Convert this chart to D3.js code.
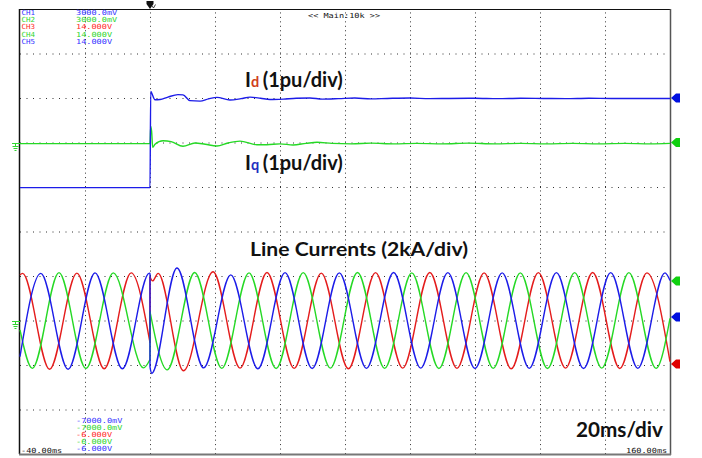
<!doctype html>
<html>
<head>
    <meta charset="utf-8">
    <style>
        body {
            margin: 0;
            background: #fff;
        }
        svg {
            display: block;
        }
        .grid line {
            stroke: #333;
            stroke-width: 1;
        }
        .grid path {
            stroke-width: 0;
        }
        .trace {
            fill: none;
            stroke-width: 1.4;
            stroke-linejoin: round;
        }
        text.scope {
            font-family: 'DejaVu Sans Mono', monospace;
            font-size: 7px;
        }
        text.label {
            font-family: Lato, 'Open Sans', sans-serif;
            font-weight: 700;
            fill: #111;
        }
    </style>
    <script src="https://d3js.org/d3.v7.min.js"></script>
</head>
<body>
<svg width="702" height="458"></svg>
<script>
    // time axis in ms, screen is 10 x 10 divisions
    const timeTicks = [-20, 0, 20, 40, 60, 80, 100, 120, 140];
    const divTicks = [-4, -3, -2, -1, 0, 1, 2, 3, 4];

    // Id / Iq in pu (1pu/div), reference at +2 div
    const idTrace = [[-40,-1.015],[0,-1.015],[0.22,1.15],[0.46,1.12],[1.54,0.96],[3.08,0.965],[5.5,1.02],[8.6,1.075],[10.15,1.07],[12.3,0.94],[15.4,0.93],[18.0,0.98],[20.6,1.015],[24.6,0.955],[28.0,0.985],[30.8,1.02],[34.0,0.995],[36.9,0.965],[41.0,0.975],[45.0,0.995],[49.2,1.0],[53.0,0.975],[58.0,0.985],[63.0,1.0],[68.0,0.98],[73.0,0.99],[80.0,1.0],[86.0,0.985],[92.0,0.99],[100.0,0.995],[107.0,0.985],[114.0,0.995],[121.0,0.99],[128.0,0.985],[135.0,0.995],[142.0,0.99],[150.0,0.99],[160.0,0.99]];
    const iqTrace = [[-40,-0.025],[0,-0.025],[0.22,0.36],[0.5,0.25],[0.83,-0.11],[1.54,-0.04],[4.0,0.04],[6.5,0.02],[10.15,-0.085],[13.85,-0.01],[17.0,-0.04],[20.6,-0.08],[24.0,-0.01],[27.7,0.03],[32.9,-0.05],[36.0,-0.05],[40.0,-0.03],[44.0,-0.055],[48.0,-0.02],[51.4,0.005],[56.0,-0.02],[62.0,-0.03],[68.0,-0.015],[75.0,-0.03],[82.0,-0.02],[90.0,-0.03],[98.0,-0.015],[106.0,-0.03],[114.0,-0.02],[122.0,-0.03],[130.0,-0.02],[138.0,-0.03],[146.0,-0.02],[154.0,-0.03],[160.0,-0.02]];

    // line currents in kA (2kA/div), reference at -2 div
    // peaks and troughs, before and after the step at t = 0
    const iaBefore = [[-40,2.05],[-39.2,2.12],[-30.9,-2.19],[-22.5,2.13],[-14.1,-2.17],[-5.8,2.14],[0,-1.0]];
    const iaAfter = [[0,1.97],[0.8,1.78],[2.5,2.12],[10.3,-2.26],[19.4,2.19],[27.7,-2.14],[36.0,2.16],[44.35,-2.15],[52.7,2.13],[61.05,-2.17],[69.4,2.15],[77.75,-2.14],[86.1,2.16],[94.45,-2.15],[102.8,2.14],[111.15,-2.17],[119.5,2.15],[127.85,-2.14],[136.2,2.16],[144.55,-2.16],[152.9,2.14],[160,-1.85]];
    const ibBefore = [[-40,-1.62],[-33.6,2.12],[-25.2,-2.19],[-16.9,2.14],[-8.5,-2.17],[-0.2,2.13],[0,2.12]];
    const ibAfter = [[0,-2.1],[0.5,-2.38],[8.3,2.36],[16.5,-2.13],[24.85,2.05],[33.2,-2.17],[41.55,2.15],[49.9,-2.16],[58.25,2.14],[66.6,-2.15],[74.95,2.16],[83.3,-2.14],[91.65,2.15],[100.0,-2.16],[108.35,2.14],[116.7,-2.15],[125.05,2.15],[133.4,-2.16],[141.75,2.15],[150.1,-2.15],[158.45,2.14],[160,1.8]];
    const icBefore = [[-40,-0.42],[-36.2,-2.15],[-28.0,2.15],[-19.7,-2.16],[-11.3,2.14],[-2.0,-2.13],[0,-1.75]];
    const icAfter = [[0,0.4],[5.3,-2.22],[13.75,2.16],[22.1,-2.15],[30.45,2.14],[38.8,-2.16],[47.15,2.15],[55.5,-2.14],[63.85,2.16],[72.2,-2.15],[80.55,2.14],[88.9,-2.16],[97.25,2.15],[105.6,-2.15],[113.95,2.14],[122.3,-2.16],[130.65,2.15],[139.0,-2.14],[147.35,2.15],[155.7,-2.15],[160,0.1]];

    // channel readouts
    const chNames = ['CH1', 'CH2', 'CH3', 'CH4', 'CH5'];
    const chScales = ['3000.0mV', '3000.0mV', '14.000V', '14.000V', '14.000V'];
    const chOffsets = ['-7000.0mV', '-7000.0mV', '-6.000V', '-6.000V', '-6.000V'];
    const chColors = ['#3535ff', '#2ed62e', '#ff2a2a', '#2ed62e', '#3535ff'];

    // level markers on the right edge (in divisions)
    const markerDivs = [3.0, 2.0, -1.11, -1.92, -2.98];
    const markerColors = ['#0010e0', '#10d010', '#10d010', '#0010e0', '#e00000'];

    const blue = '#1c1ce8', green = '#25d925', red = '#e41c1c';

    const svg = d3.select('svg');
    const plotLeft = 20, plotRight = 670, plotTop = 9, plotBottom = 454;

    const x = d3.scaleLinear().domain([-40, 160]).range([plotLeft, plotRight]);
    const y = d3.scaleLinear().domain([-5, 5]).range([plotBottom, plotTop]);

    // grid
    const gx = svg.append('g')
        .attr('class', 'grid')
        .attr('transform', `translate(0, ${plotBottom})`)
        .call(d3.axisBottom(x).tickValues(timeTicks).tickSize(-(plotBottom - plotTop)).tickFormat(''));
    gx.selectAll('line').attr('stroke-dasharray', '1 3.45');

    const gy = svg.append('g')
        .attr('class', 'grid')
        .attr('transform', `translate(${plotLeft}, 0)`)
        .call(d3.axisLeft(y).tickValues(divTicks).tickSize(-(plotRight - plotLeft)).tickFormat(''));
    gy.selectAll('line').attr('stroke-dasharray', '1 5.5');

    // frame
    svg.append('line').attr('x1', plotLeft).attr('x2', plotRight).attr('y1', plotTop + 0.5).attr('y2', plotTop + 0.5)
        .attr('stroke', '#111');
    svg.append('line').attr('x1', plotLeft - 0.5).attr('x2', plotLeft - 0.5).attr('y1', plotTop).attr('y2', plotBottom)
        .attr('stroke', '#111').attr('stroke-width', 1.5);
    svg.append('line').attr('x1', plotRight + 0.5).attr('x2', plotRight + 0.5).attr('y1', plotTop).attr('y2', plotBottom + 1)
        .attr('stroke', '#555').attr('stroke-width', 1.5);
    svg.append('line').attr('x1', plotLeft - 1).attr('x2', plotRight + 1).attr('y1', plotBottom + 0.5).attr('y2', plotBottom + 0.5)
        .attr('stroke', '#777').attr('stroke-width', 2);

    // traces
    const lineFor = (offset, perDiv, curve) => d3.line()
        .x(d => x(d[0]))
        .y(d => y(d[1] / perDiv + offset))
        .curve(curve);

    const dqLine = lineFor(2, 1, d3.curveMonotoneX);
    const abcLine = lineFor(-2, 2, d3.curveMonotoneX);
    const stepLine = lineFor(-2, 2, d3.curveLinear);

    const phases = [
        { before: iaBefore, after: iaAfter, color: red },
        { before: icBefore, after: icAfter, color: green },
        { before: ibBefore, after: ibAfter, color: blue }
    ];

    phases.forEach(p => {
        svg.append('path').attr('class', 'trace').attr('stroke', p.color).attr('d', abcLine(p.before));
        svg.append('path').attr('class', 'trace').attr('stroke', p.color).attr('d', abcLine(p.after));
        svg.append('path').attr('class', 'trace').attr('stroke', p.color)
            .attr('d', stepLine([p.before[p.before.length - 1], p.after[0]]));
    });

    svg.append('path').attr('class', 'trace').attr('stroke', green).attr('d', dqLine(iqTrace));
    svg.append('path').attr('class', 'trace').attr('stroke', blue).attr('d', dqLine(idTrace));

    // right-edge markers
    svg.selectAll('.marker')
        .data(markerDivs)
        .enter()
        .append('path')
        .attr('class', 'marker')
        .attr('fill', (d, i) => markerColors[i])
        .attr('d', d => {
            const cy = y(d);
            return `M${plotRight + 1},${cy} L${plotRight + 6},${cy - 4.5} L${plotRight + 10},${cy - 4.5} L${plotRight + 10},${cy + 4.5} L${plotRight + 6},${cy + 4.5} Z`;
        });

    // ground symbols on the left
    [2, -2].forEach(d => {
        const gy0 = y(d) + 1;
        svg.append('path')
            .attr('fill', 'none')
            .attr('stroke', '#2ed62e')
            .attr('stroke-width', 1)
            .attr('d', `M12,${gy0} H20 M15.5,${gy0} V${gy0 + 3} M12.5,${gy0 + 3} H18.5 M13.5,${gy0 + 5} H17.5 M14.5,${gy0 + 7} H16.5`);
    });

    // trigger mark at top
    svg.append('path')
        .attr('fill', '#111')
        .attr('d', `M${x(0) - 3.5},1 L${x(0) + 3.5},1 L${x(0) + 3.5},4 L${x(0)},9 L${x(0) - 3.5},4 Z`);
    svg.append('path')
        .attr('fill', 'none').attr('stroke', '#111').attr('stroke-width', 0.8)
        .attr('d', `M${x(0) + 2},6 L${x(0) + 3.5},8 L${x(0) + 5.5},4.5`);

    // readouts (bitmap-like scope font, width per character ~5.15px)
    const charW = 5.15;
    chNames.forEach((n, i) => {
        svg.append('text').attr('class', 'scope').attr('x', 21.5).attr('y', 15 + i * 7.2)
            .attr('fill', chColors[i]).attr('textLength', 13.5).attr('lengthAdjust', 'spacingAndGlyphs').text(n);
        svg.append('text').attr('class', 'scope').attr('x', 76).attr('y', 15 + i * 7.2)
            .attr('fill', chColors[i]).attr('textLength', chScales[i].length * charW)
            .attr('lengthAdjust', 'spacingAndGlyphs').text(chScales[i]);
        svg.append('text').attr('class', 'scope').attr('x', 76).attr('y', 423 + i * 7.1)
            .attr('fill', chColors[i]).attr('textLength', chOffsets[i].length * charW)
            .attr('lengthAdjust', 'spacingAndGlyphs').text(chOffsets[i]);
    });

    svg.append('text').attr('class', 'scope').attr('x', 308).attr('y', 17.5).attr('fill', '#111')
        .attr('textLength', 14 * charW).attr('lengthAdjust', 'spacingAndGlyphs').text('<< Main:10k >>');
    svg.append('text').attr('class', 'scope').attr('x', 21).attr('y', 452.5).attr('fill', '#111')
        .attr('textLength', 8 * charW).attr('lengthAdjust', 'spacingAndGlyphs').text('-40.00ms');
    svg.append('text').attr('class', 'scope').attr('x', 626).attr('y', 452.5).attr('fill', '#111')
        .attr('textLength', 8 * charW).attr('lengthAdjust', 'spacingAndGlyphs').text('160.00ms');

    // annotations
    const idLabel = svg.append('text').attr('class', 'label').attr('x', 245).attr('y', 87.3).style('font-size', '20px');
    idLabel.append('tspan').text('I');
    idLabel.append('tspan').attr('fill', '#d0401c').style('font-size', '14.5px').text('d');
    idLabel.append('tspan').attr('dx', 3.5).text('(1pu/div)');

    const iqLabel = svg.append('text').attr('class', 'label').attr('x', 245).attr('y', 170).style('font-size', '20px');
    iqLabel.append('tspan').text('I');
    iqLabel.append('tspan').attr('fill', '#1f2fc0').style('font-size', '14.5px').text('q');
    iqLabel.append('tspan').attr('dx', 3.5).text('(1pu/div)');

    svg.append('text').attr('class', 'label').attr('x', 250).attr('y', 255.7)
        .style('font-size', '19px').attr('textLength', 218).attr('lengthAdjust', 'spacingAndGlyphs')
        .text('Line Currents (2kA/div)');

    svg.append('text').attr('class', 'label').attr('x', 576).attr('y', 436.7)
        .style('font-size', '20px').attr('textLength', 87).attr('lengthAdjust', 'spacingAndGlyphs')
        .text('20ms/div');
</script>
</body>
</html>
